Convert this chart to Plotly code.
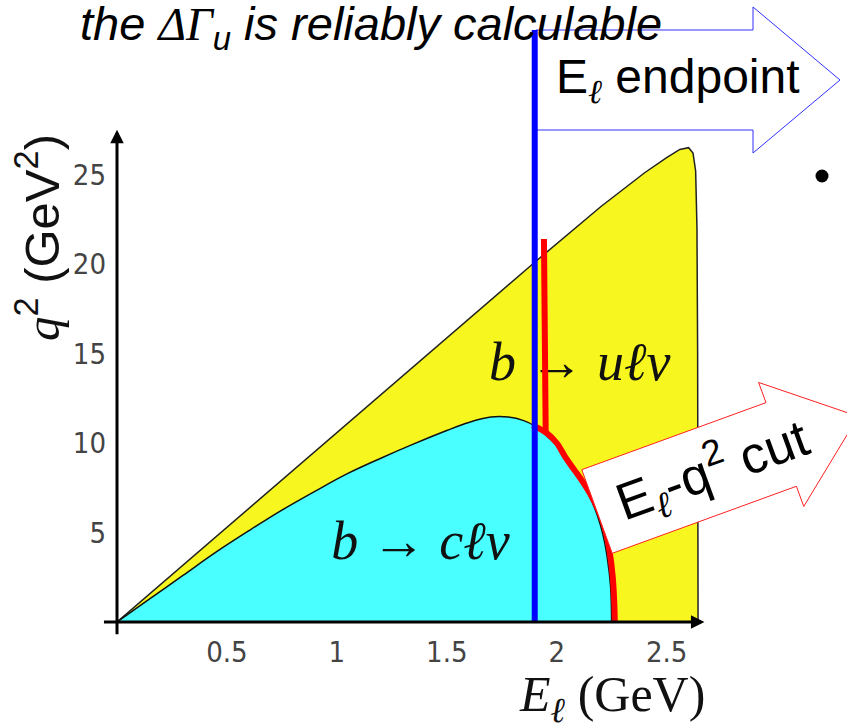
import math
import plotly.graph_objects as go

# Upper edge of the b -> u l nu phase space (yellow)
u_E = [0.0, 0.5, 1.0, 1.5, 1.9, 2.2, 2.4, 2.5, 2.56, 2.6, 2.62, 2.632, 2.638, 2.641, 2.643]
u_q2 = [0.0, 5.3, 10.6, 15.9, 20.1, 23.2, 25.1, 25.95, 26.4, 26.5, 26.2, 25.2, 22.0, 15.0, 0.0]

# Upper edge of the b -> c l nu phase space (cyan)
c_E = [0.0, 0.15, 0.3, 0.45, 0.6, 0.75, 0.9, 1.05, 1.2, 1.35, 1.5, 1.6, 1.7,
       1.78, 1.85, 1.9, 1.95, 2.0, 2.05, 2.1, 2.15, 2.185, 2.21, 2.23, 2.245, 2.25]
c_q2 = [0.0, 1.3, 2.6, 3.9, 5.1, 6.25, 7.3, 8.3, 9.15, 9.95, 10.7, 11.15, 11.45,
        11.45, 11.25, 10.95, 10.45, 9.85, 9.05, 8.05, 7.0, 5.95, 4.9, 3.6, 2.0, 0.0]

# Combined E_l - q^2 cut (red)
cut_E = [1.89, 1.955, 2.0, 2.04, 2.08, 2.12, 2.16, 2.195, 2.22, 2.24, 2.255, 2.262, 2.264]
cut_q2 = [11.0, 10.55, 10.0, 9.2, 8.5, 7.8, 7.0, 6.1, 5.2, 4.0, 2.5, 1.0, 0.0]
cutv_E = [1.942, 1.95]
cutv_q2 = [21.4, 10.55]
cutb_E = [2.264, 2.643]
cutb_q2 = [0.0, 0.0]

# Lepton-energy endpoint cut (blue)
E_ENDPOINT = 1.9

x_ticks = [0.5, 1, 1.5, 2, 2.5]
x_tick_text = ["0.5", "1", "1.5", "2", "2.5"]
y_ticks = [5, 10, 15, 20, 25]
y_tick_text = ["5", "10", "15", "20", "25"]

X_MAX, Y_MAX = 2.72, 27.6
W, H = 847, 725
ML, MR, MT, MB = 117, 132, 128, 103
PW, PH = W - ML - MR, H - MT - MB


def fx(px):
    return (px - ML) / PW


def fy(py):
    return (H - MB - py) / PH


SANS = "Liberation Sans, Arial, sans-serif"
NARROW = "Liberation Sans Narrow, DejaVu Sans Condensed, Liberation Sans, sans-serif"
SERIF = "Liberation Serif, DejaVu Serif, serif"

fig = go.Figure()

fig.add_trace(go.Scatter(x=u_E, y=u_q2, mode="lines", fill="toself",
                         fillcolor="#f7f71f", line=dict(color="#222222", width=1.5),
                         hoverinfo="skip"))
fig.add_trace(go.Scatter(x=c_E, y=c_q2, mode="lines", fill="toself",
                         fillcolor="#4affff",
                         line=dict(color="#111111", width=1.5, shape="spline", smoothing=1.0),
                         hoverinfo="skip"))
fig.add_trace(go.Scatter(
    x=[1.38, 2.105], y=[4.3, 14.3], mode="text",
    text=["<i>b</i> → <i>c</i><i>ℓν</i>", "<i>b</i> → <i>u</i><i>ℓν</i>"],
    textfont=dict(family=SERIF, size=54, color="#111111"),
    hoverinfo="skip"))
fig.add_trace(go.Scatter(x=cutb_E, y=cutb_q2, mode="lines",
                         line=dict(color="#cc1010", width=2), hoverinfo="skip"))
fig.add_trace(go.Scatter(x=cutv_E, y=cutv_q2, mode="lines",
                         line=dict(color="#ff0000", width=6), hoverinfo="skip"))
fig.add_trace(go.Scatter(x=cut_E, y=cut_q2, mode="lines",
                         line=dict(color="#ff0000", width=6, shape="spline"),
                         hoverinfo="skip"))


def path(points):
    return "M " + " L ".join(f"{fx(x):.5f},{fy(y):.5f}" for x, y in points) + " Z"


# "E_l endpoint" block arrow
endpoint_arrow = [(536, 30), (753, 30), (753, 7), (840, 80), (753, 153), (753, 130), (536, 130)]

# "E_l - q^2 cut" block arrow, tilted by 20 degrees
ang = math.radians(20)
u = (math.cos(ang), -math.sin(ang))
n = (math.sin(ang), math.cos(ang))
tail = (597, 511.5)
local = [(0, -44.5), (196, -44.5), (196, -66), (278, 0), (196, 66), (196, 44.5), (0, 44.5)]
cut_arrow = [(tail[0] + s * u[0] + w * n[0], tail[1] + s * u[1] + w * n[1]) for s, w in local]

shapes = [
    dict(type="path", xref="paper", yref="paper", path=path(endpoint_arrow),
         fillcolor="white", line=dict(color="#3030ff", width=1), layer="above"),
    dict(type="line", xref="x", yref="paper", x0=E_ENDPOINT, x1=E_ENDPOINT,
         y0=0, y1=fy(30), line=dict(color="#0000ff", width=6), layer="above"),
    dict(type="path", xref="paper", yref="paper", path=path(cut_arrow),
         fillcolor="white", line=dict(color="#ff2020", width=1), layer="above"),
    dict(type="circle", xref="paper", yref="paper", x0=fx(815.5), x1=fx(828.5),
         y0=fy(182.5), y1=fy(169.5), fillcolor="black", line=dict(width=0), layer="above"),
]

annotations = [
    # axes with arrow heads
    dict(x=2.672, y=0, xref="x", yref="y", ax=-602, ay=0, text="", showarrow=True,
         arrowhead=2, arrowsize=0.9, arrowwidth=3, arrowcolor="black"),
    dict(x=0, y=27.5, xref="x", yref="y", ax=0, ay=506, text="", showarrow=True,
         arrowhead=2, arrowsize=0.9, arrowwidth=3, arrowcolor="black"),
    # title line
    dict(x=fx(78), y=fy(27), xref="paper", yref="paper", xanchor="left", yanchor="middle",
         showarrow=False,
         text=("<i>the </i><span style='font-family:Liberation Serif'><i>ΔΓ</i></span>"
               "<sub><i>u</i></sub><i> is reliably calculable</i>"),
         font=dict(family=SANS, size=47, color="black")),
    dict(x=fx(678), y=fy(80), xref="paper", yref="paper", xanchor="center", yanchor="middle",
         showarrow=False,
         text="E<sub><span style='font-family:Liberation Serif'><i>ℓ</i></span></sub> endpoint",
         font=dict(family=SANS, size=48, color="black")),
    dict(x=fx(712), y=fy(470), xref="paper", yref="paper", xanchor="center", yanchor="middle",
         showarrow=False, textangle=-20,
         text="E<sub><span style='font-family:Liberation Serif'><i>ℓ</i></span></sub>-q<sup>2</sup> cut",
         font=dict(family=SANS, size=52, color="black")),
    # axis titles
    dict(x=fx(612), y=fy(698), xref="paper", yref="paper", xanchor="center", yanchor="middle",
         showarrow=False, text="<i>E</i><sub><i>ℓ</i></sub> (GeV)",
         font=dict(family=SERIF, size=50, color="#111111")),
    dict(x=fx(38), y=fy(238), xref="paper", yref="paper", xanchor="center", yanchor="middle",
         showarrow=False, textangle=-90,
         text="<span style='font-family:Liberation Serif'><i>q</i></span><sup>2</sup> (GeV<sup>2</sup>)",
         font=dict(family=SANS, size=49, color="#111111")),
]

fig.update_layout(
    width=W, height=H,
    margin=dict(l=ML, r=MR, t=MT, b=MB, pad=0),
    plot_bgcolor="white", paper_bgcolor="white",
    showlegend=False,
    xaxis=dict(range=[0, X_MAX], tickvals=x_ticks, ticktext=x_tick_text,
               showgrid=False, zeroline=False, showline=False, ticks="",
               ticklabelstandoff=10,
               tickfont=dict(family=NARROW, size=29, color="#444444")),
    yaxis=dict(range=[0, Y_MAX], tickvals=y_ticks, ticktext=y_tick_text,
               showgrid=False, zeroline=False, showline=False, ticks="",
               ticklabelstandoff=10,
               tickfont=dict(family=NARROW, size=29, color="#444444")),
    shapes=shapes,
    annotations=annotations,
)

fig.write_html("out.html")
